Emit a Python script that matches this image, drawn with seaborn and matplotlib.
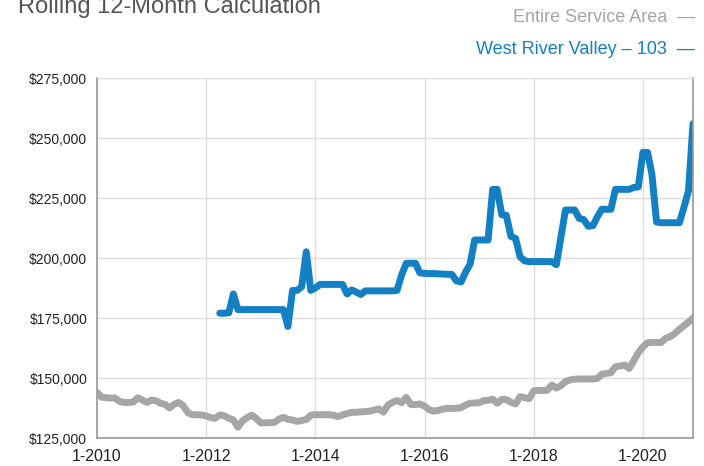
import matplotlib
matplotlib.use('Agg')

import numpy as np
import pandas as pd
import matplotlib.pyplot as plt
import matplotlib.dates as mdates
import seaborn as sns

# =========================
# DATA (monthly, 1-2010 .. 12-2020)
# =========================
months = pd.date_range("2010-01-01", periods=132, freq="MS")

service_area = [
    144000, 142000, 141800, 141600, 141700, 140200, 139800, 139800, 140000, 141800,
    140800, 139800, 140800, 140500, 139500, 139000, 137500, 139000, 139800, 138500,
    135500, 134700, 134700, 134600, 134200, 133500, 133200, 134600, 134300, 133200,
    132500, 129500, 132200, 133500, 134500, 133200, 131300, 131300, 131400, 131500,
    132800, 133600, 132800, 132500, 131900, 132300, 132700, 134500, 134700, 134700,
    134700, 134700, 134500, 133900, 134600, 135200, 135700, 135700, 135900, 136000,
    136200, 136700, 137100, 135800, 138700, 139900, 140600, 139700, 141900, 139000,
    138900, 139200, 138300, 136800, 136200, 136500, 137000, 137400, 137300, 137400,
    137600, 138700, 139500, 139600, 139700, 140600, 140700, 141200, 139500, 141100,
    141000, 139900, 139200, 142200, 141800, 141400, 144700, 144800, 144800, 144900,
    147100, 145800, 146800, 148500, 149200, 149500, 149600, 149600, 149600, 149600,
    149800, 151600, 151900, 152200, 154700, 155000, 155400, 154000, 157200, 160500,
    163000, 164700, 164800, 164800, 164800, 166500, 167200, 168500, 170300, 171800,
    173300, 175000,
]

# West River Valley starts 4-2012 (month index 27)
wrv_start = 27
west_river = [
    177000, 177000, 177200, 185000, 178500, 178500, 178500, 178500, 178500, 178500,
    178500, 178500, 178500, 178500, 178500, 171500, 186500, 186500, 188000, 202600,
    186500, 187500, 189000, 189000, 189000, 189000, 189000, 189000, 185000, 186700,
    185800, 184800, 186300, 186300, 186300, 186300, 186300, 186300, 186300, 186500,
    193000, 197800, 197800, 197800, 193800, 193600, 193500, 193500, 193400, 193300,
    193200, 193200, 190500, 190000, 194000, 197500, 207500, 207500, 207500, 207500,
    228600, 228600, 218000, 217800, 209000, 208200, 200500, 198800, 198500, 198500,
    198500, 198500, 198500, 198500, 197200, 208500, 220000, 220000, 220000, 216500,
    216000, 213200, 213500, 217000, 220300, 220300, 220300, 228600, 228600, 228600,
    228600, 229400, 229600, 244000, 244000, 235000, 215000, 214700, 214700, 214700,
    214700, 214700, 221000, 228000, 256000,
]

x_tick_years = [2010, 2012, 2014, 2016, 2018, 2020]
y_ticks = [125000, 150000, 175000, 200000, 225000, 250000, 275000]

gray = "#a6a6a6"
blue = "#1380c3"

df = pd.concat([
    pd.DataFrame({"month": months, "value": service_area, "area": "Entire Service Area"}),
    pd.DataFrame({"month": months[wrv_start:wrv_start + len(west_river)],
                  "value": west_river, "area": "West River Valley – 103"}),
])

# =========================
# PLOT
# =========================
sns.set_style("white")

fig = plt.figure(figsize=(7.04, 4.66), dpi=100)
ax = fig.add_axes([97 / 704, 1 - 438 / 466, 596 / 704, 360 / 466])

sns.lineplot(
    data=df, x="month", y="value", hue="area",
    palette={"Entire Service Area": gray, "West River Valley – 103": blue},
    linewidth=5, legend=False, ax=ax,
    solid_capstyle="round", solid_joinstyle="round",
)

ax.set_xlim(months[0], months[-1])
ax.set_ylim(125000, 275000)

tick_dates = [pd.Timestamp(f"{y}-01-01") for y in x_tick_years]
ax.set_xticks(tick_dates)
ax.set_xticklabels([f"1-{y}" for y in x_tick_years], fontsize=11.5,
                   family=["Liberation Sans", "DejaVu Sans"], color="#222222")
ax.set_yticks(y_ticks)
ax.set_yticklabels([f"${v:,.0f}" for v in y_ticks], fontsize=10,
                   family=["Liberation Sans", "DejaVu Sans"], color="#222222")
ax.set_xlabel("")
ax.set_ylabel("")

ax.grid(True, color="#dddddd", linewidth=1)
ax.set_axisbelow(True)
for side in ["left", "bottom", "right"]:
    ax.spines[side].set_color("#999999")
    ax.spines[side].set_linewidth(1.2)
ax.spines["top"].set_color("#dddddd")
ax.tick_params(axis="both", length=4, width=1, color="#999999", direction="out")
ax.tick_params(axis="x", pad=4)
ax.tick_params(axis="y", pad=3)

# title (cut off at top like the reference)
narrow = ["Liberation Sans Narrow", "Liberation Sans", "DejaVu Sans"]
fig.text(18 / 704, 1 - 13 / 466, "Rolling 12-Month Calculation", fontsize=17,
         family=narrow, color="#555555", va="baseline", ha="left")

# legend text on the right
fig.text(695 / 704, 1 - 18 / 466, "Entire Service Area  —", fontsize=13,
         family=narrow, color=gray, va="center", ha="right")
fig.text(695 / 704, 1 - 50 / 466, "West River Valley – 103  —", fontsize=13,
         family=narrow, color=blue, va="center", ha="right")

plt.savefig("out.png", dpi=100)
print("Saved: out.png")
